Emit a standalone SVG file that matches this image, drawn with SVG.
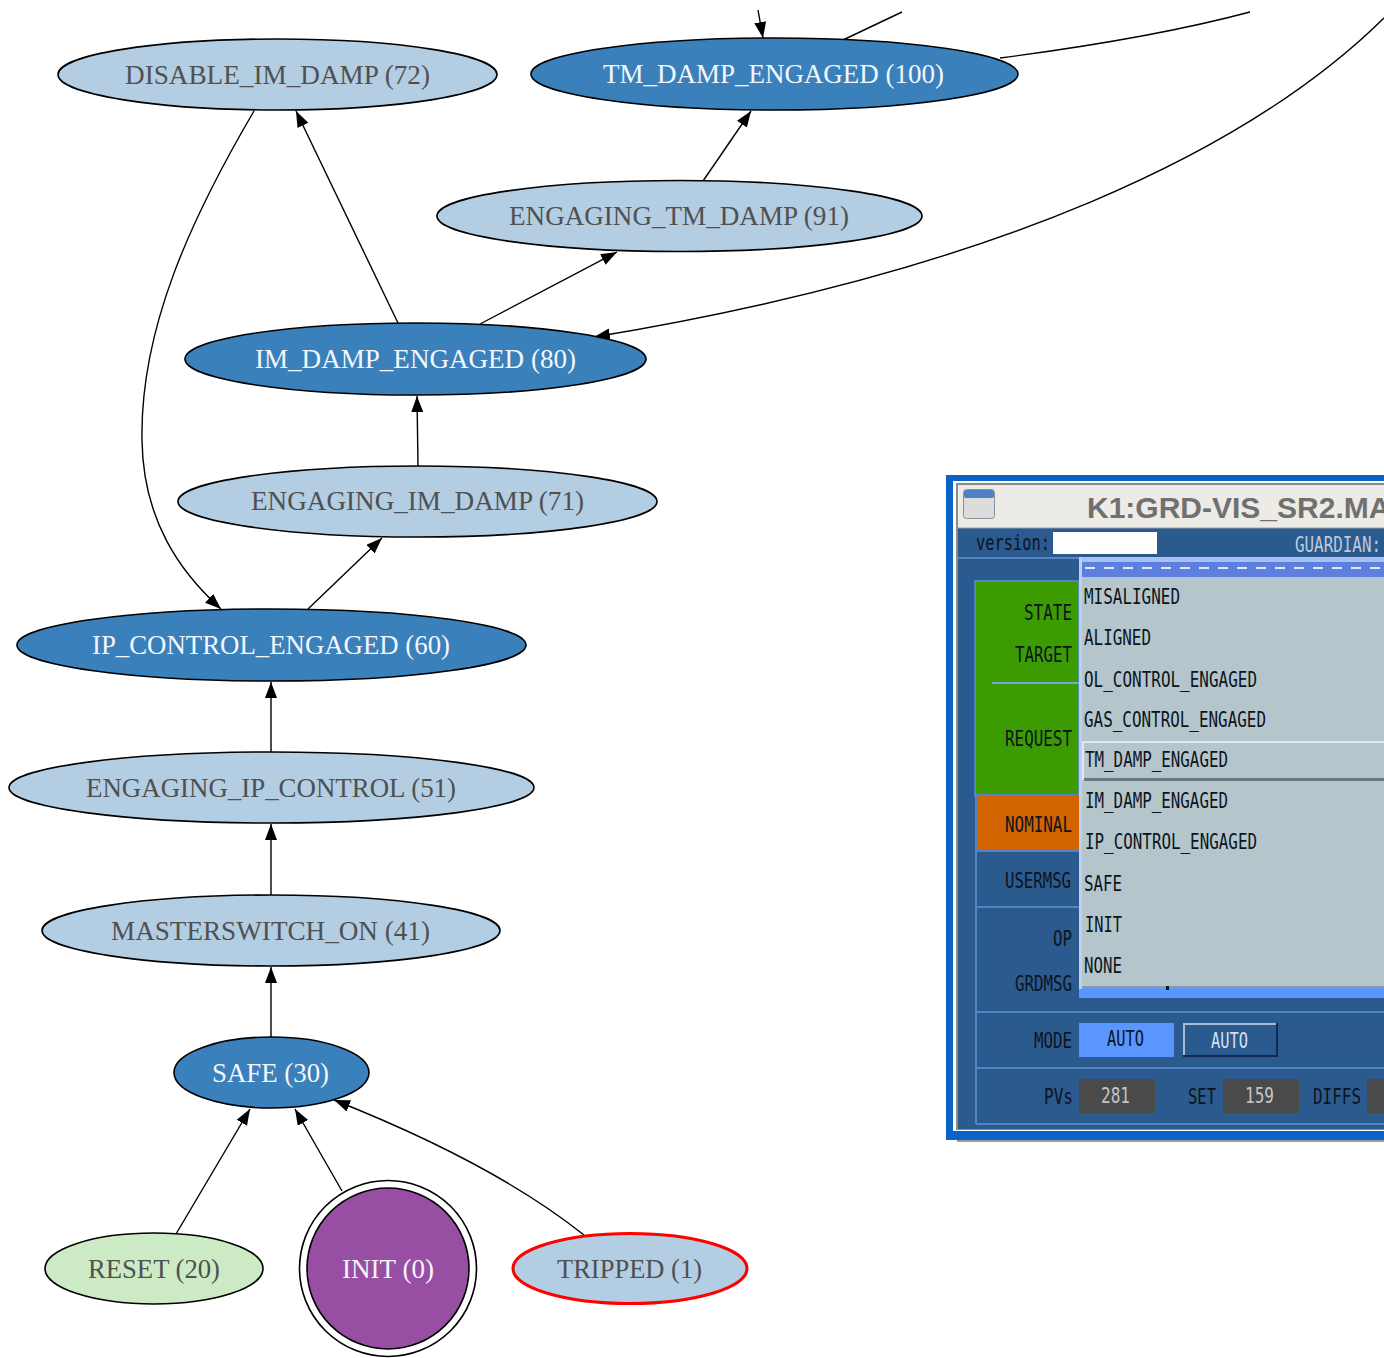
<svg xmlns="http://www.w3.org/2000/svg" width="1384" height="1358" viewBox="0 0 1384 1358">
<defs>
<marker id="ah" markerWidth="18" markerHeight="14" refX="16" refY="6" orient="auto" markerUnits="userSpaceOnUse"><path d="M0,0 L16,6 L0,12 z" fill="#000"/></marker>
</defs>
<style>
.e{stroke:#000;stroke-width:1.6}
.lb{fill:#b3cde3}
.db{fill:#3a80ba}
.t{font-family:"Liberation Serif","Times New Roman",serif;font-size:28px}
.tg{fill:#505050}
.tw{fill:#f4f6fa}
.c{fill:none;stroke:#000;stroke-width:1.4;marker-end:url(#ah)}
.cn{fill:none;stroke:#000;stroke-width:1.4}
.m{font-family:"DejaVu Sans Mono","Liberation Mono",monospace;font-size:21px;fill:#0c1420}
.sep{stroke:#5484c4;stroke-width:2}
</style>
<rect width="1384" height="1358" fill="#fff"/>

<g id="connectors">
<line class="c" x1="758" y1="10" x2="763" y2="38"/>
<line class="cn" x1="843" y1="40" x2="902" y2="12"/>
<path class="cn" d="M1000,58 C1100,45 1190,28 1250,12"/>
<path class="c" d="M1384,18 C1250,150 1000,270 594,337"/>
<line class="c" x1="703" y1="181" x2="751" y2="111"/>
<line class="c" x1="480" y1="324" x2="617" y2="252"/>
<line class="c" x1="398" y1="323" x2="296" y2="111"/>
<path class="c" d="M254,111 C190,220 140,330 142,440 C143,520 180,572 221,609"/>
<line class="c" x1="418" y1="466" x2="417" y2="396"/>
<line class="c" x1="308" y1="609" x2="382" y2="538"/>
<line class="c" x1="271" y1="752" x2="271" y2="682"/>
<line class="c" x1="271" y1="895" x2="271" y2="824"/>
<line class="c" x1="271" y1="1037" x2="271" y2="967"/>
<line class="c" x1="176" y1="1234" x2="250" y2="1109"/>
<line class="c" x1="342" y1="1191" x2="295" y2="1109"/>
<path class="c" d="M584,1235 C525,1188 440,1142 334,1100"/>
</g>

<g id="n72"><ellipse class="e lb" cx="277.5" cy="74.5" rx="219.5" ry="35.5"/><text class="t tg" x="125" y="84" textLength="305" lengthAdjust="spacingAndGlyphs">DISABLE_IM_DAMP (72)</text></g>
<g id="n100"><ellipse class="e db" cx="774.5" cy="74" rx="243.5" ry="36"/><text class="t tw" x="603" y="83" textLength="341" lengthAdjust="spacingAndGlyphs">TM_DAMP_ENGAGED (100)</text></g>
<g id="n91"><ellipse class="e lb" cx="679.5" cy="216" rx="242.5" ry="35.5"/><text class="t tg" x="509" y="225" textLength="340" lengthAdjust="spacingAndGlyphs">ENGAGING_TM_DAMP (91)</text></g>
<g id="n80"><ellipse class="e db" cx="415.5" cy="359" rx="230.5" ry="36"/><text class="t tw" x="255" y="368" textLength="321" lengthAdjust="spacingAndGlyphs">IM_DAMP_ENGAGED (80)</text></g>
<g id="n71"><ellipse class="e lb" cx="417.5" cy="501.5" rx="239.5" ry="35.5"/><text class="t tg" x="251" y="510" textLength="333" lengthAdjust="spacingAndGlyphs">ENGAGING_IM_DAMP (71)</text></g>
<g id="n60"><ellipse class="e db" cx="271.5" cy="645" rx="254.5" ry="36"/><text class="t tw" x="92" y="654" textLength="358" lengthAdjust="spacingAndGlyphs">IP_CONTROL_ENGAGED (60)</text></g>
<g id="n51"><ellipse class="e lb" cx="271.5" cy="787.5" rx="262.5" ry="35.5"/><text class="t tg" x="86" y="797" textLength="370" lengthAdjust="spacingAndGlyphs">ENGAGING_IP_CONTROL (51)</text></g>
<g id="n41"><ellipse class="e lb" cx="271" cy="930.5" rx="229" ry="35.5"/><text class="t tg" x="111" y="940" textLength="319" lengthAdjust="spacingAndGlyphs">MASTERSWITCH_ON (41)</text></g>
<g id="n30"><ellipse class="e db" cx="271.5" cy="1072.5" rx="97.5" ry="35.5"/><text class="t tw" x="212" y="1082" textLength="117" lengthAdjust="spacingAndGlyphs">SAFE (30)</text></g>
<g id="n20"><ellipse class="e" fill="#ccebc5" cx="154" cy="1268.5" rx="109" ry="35.5"/><text class="t tg" x="88" y="1278" textLength="132" lengthAdjust="spacingAndGlyphs">RESET (20)</text></g>
<g id="n0"><ellipse fill="#fff" stroke="#000" stroke-width="1.6" cx="388" cy="1268.5" rx="88.5" ry="88"/><ellipse class="e" fill="#984ea3" cx="388" cy="1268.5" rx="81" ry="80.5"/><text class="t tw" x="342" y="1278" textLength="92" lengthAdjust="spacingAndGlyphs">INIT (0)</text></g>
<g id="n1"><ellipse fill="#b3cde3" stroke="#ff0000" stroke-width="3" cx="630" cy="1268.5" rx="117" ry="35"/><text class="t tg" x="557" y="1278" textLength="145" lengthAdjust="spacingAndGlyphs">TRIPPED (1)</text></g>

<g id="panel">
<rect x="946" y="475" width="450" height="665" fill="#0a64c8"/>
<rect x="953" y="481" width="440" height="650" fill="#ffffff"/>
<rect x="956" y="483" width="440" height="647" fill="#8a8a8a"/>
<rect x="958" y="485" width="440" height="644" fill="#2b5a8e"/>
<line x1="957" y1="1141" x2="1384" y2="1141" stroke="#9a9a9a" stroke-width="2"/>
<rect x="958" y="485" width="440" height="43" fill="#ecebe5"/>
<line x1="958" y1="528" x2="1384" y2="528" stroke="#9aa0a8" stroke-width="1"/>
<rect x="963.5" y="489.5" width="31" height="29" rx="3" fill="#dcdcdc" stroke="#8a9098"/>
<rect x="964" y="490" width="30" height="8" rx="2" fill="#4f80c4"/>
<text x="1087" y="518" font-family="Liberation Sans, Arial, sans-serif" font-weight="bold" font-size="30" fill="#707070">K1:GRD-VIS_SR2.MA</text>
<text class="m" x="976" y="550" font-size="18" textLength="74" lengthAdjust="spacingAndGlyphs">version:</text>
<rect x="1053" y="532" width="104" height="22" fill="#ffffff"/>
<text class="m" x="1295" y="552" font-size="19" style="fill:#bccadc" textLength="86" lengthAdjust="spacingAndGlyphs">GUARDIAN:</text>
<line class="sep" x1="958" y1="558" x2="1384" y2="558"/>
<rect x="975" y="581" width="104" height="215" fill="#3c9b00" stroke="#5b8fd8" stroke-width="1.5"/>
<line x1="992" y1="683" x2="1079" y2="683" stroke="#70a8d8" stroke-width="2"/>
<rect x="976" y="795" width="103" height="56" fill="#d26400"/>
<line class="sep" x1="976" y1="795" x2="1079" y2="795"/>
<line class="sep" x1="976" y1="851" x2="1079" y2="851"/>
<line class="sep" x1="976" y1="907" x2="1079" y2="907"/>
<line class="sep" x1="976" y1="1012" x2="1384" y2="1012"/>
<line class="sep" x1="976" y1="1068" x2="1384" y2="1068"/>
<line class="sep" x1="976" y1="1124" x2="1384" y2="1124"/>
<line class="sep" x1="976" y1="796" x2="976" y2="1124"/>
<text class="m" x="1024" y="620" textLength="48" lengthAdjust="spacingAndGlyphs">STATE</text>
<text class="m" x="1015" y="662" textLength="57" lengthAdjust="spacingAndGlyphs">TARGET</text>
<text class="m" x="1005" y="746" textLength="67" lengthAdjust="spacingAndGlyphs">REQUEST</text>
<text class="m" x="1005" y="832" textLength="67" lengthAdjust="spacingAndGlyphs">NOMINAL</text>
<text class="m" x="1005" y="888" textLength="66" lengthAdjust="spacingAndGlyphs">USERMSG</text>
<text class="m" x="1053" y="946" textLength="19" lengthAdjust="spacingAndGlyphs">OP</text>
<text class="m" x="1015" y="991" textLength="57" lengthAdjust="spacingAndGlyphs">GRDMSG</text>
<text class="m" x="1034" y="1048" textLength="38" lengthAdjust="spacingAndGlyphs">MODE</text>
<text class="m" x="1044" y="1104" textLength="29" lengthAdjust="spacingAndGlyphs">PVs</text>
<text class="m" x="1188" y="1104" textLength="28" lengthAdjust="spacingAndGlyphs">SET</text>
<text class="m" x="1313" y="1104" textLength="48" lengthAdjust="spacingAndGlyphs">DIFFS</text>
<rect x="1079" y="1023" width="95" height="34" fill="#5a96ff"/>
<text class="m" x="1107" y="1046" textLength="37" lengthAdjust="spacingAndGlyphs">AUTO</text>
<rect x="1183" y="1023" width="95" height="34" fill="#102a52"/>
<rect x="1183" y="1023" width="93" height="32" fill="#a6bcd8"/>
<rect x="1185" y="1025" width="91" height="30" fill="#2b5a8e"/>
<text class="m" x="1211" y="1048" style="fill:#d4e0ee" textLength="37" lengthAdjust="spacingAndGlyphs">AUTO</text>
<rect x="1079" y="1079" width="76" height="34" fill="#4a4a4a"/>
<text class="m" x="1101" y="1103" style="fill:#c4c4c4" textLength="29" lengthAdjust="spacingAndGlyphs">281</text>
<rect x="1223" y="1079" width="76" height="34" fill="#4a4a4a"/>
<text class="m" x="1245" y="1103" style="fill:#c4c4c4" textLength="29" lengthAdjust="spacingAndGlyphs">159</text>
<rect x="1367" y="1079" width="30" height="34" fill="#4a4a4a"/>
<rect x="1079" y="557" width="320" height="441" fill="#5a96ff"/>
<rect x="1079" y="557" width="320" height="5" fill="#a8c0f0"/>
<rect x="1079" y="557" width="3" height="432" fill="#c0d0ec"/>
<rect x="1082" y="562" width="310" height="15" fill="#5c7fe0"/>
<line x1="1085" y1="568" x2="1384" y2="568" stroke="#e6e8f0" stroke-width="2" stroke-dasharray="10,9"/>
<rect x="1082" y="577" width="310" height="410" fill="#b4c6cc"/>
<line x1="1082" y1="987" x2="1384" y2="987" stroke="#8a9aa8" stroke-width="2"/>
<rect x="1166" y="986" width="3" height="4" fill="#0c1420"/>
<rect x="1082" y="741" width="310" height="39" fill="#e2eaee"/>
<rect x="1084" y="743" width="308" height="35" fill="#b4c6cc"/>
<line x1="1084" y1="779.5" x2="1384" y2="779.5" stroke="#6e7880" stroke-width="3"/>
<text class="m" x="1084" y="604" textLength="96" lengthAdjust="spacingAndGlyphs">MISALIGNED</text>
<text class="m" x="1084" y="645" textLength="67" lengthAdjust="spacingAndGlyphs">ALIGNED</text>
<text class="m" x="1084" y="687" textLength="173" lengthAdjust="spacingAndGlyphs">OL_CONTROL_ENGAGED</text>
<text class="m" x="1084" y="727" textLength="182" lengthAdjust="spacingAndGlyphs">GAS_CONTROL_ENGAGED</text>
<text class="m" x="1085" y="767" textLength="143" lengthAdjust="spacingAndGlyphs">TM_DAMP_ENGAGED</text>
<text class="m" x="1085" y="808" textLength="143" lengthAdjust="spacingAndGlyphs">IM_DAMP_ENGAGED</text>
<text class="m" x="1085" y="849" textLength="172" lengthAdjust="spacingAndGlyphs">IP_CONTROL_ENGAGED</text>
<text class="m" x="1084" y="891" textLength="38" lengthAdjust="spacingAndGlyphs">SAFE</text>
<text class="m" x="1085" y="932" textLength="37" lengthAdjust="spacingAndGlyphs">INIT</text>
<text class="m" x="1084" y="973" textLength="38" lengthAdjust="spacingAndGlyphs">NONE</text>
</g>
</svg>
